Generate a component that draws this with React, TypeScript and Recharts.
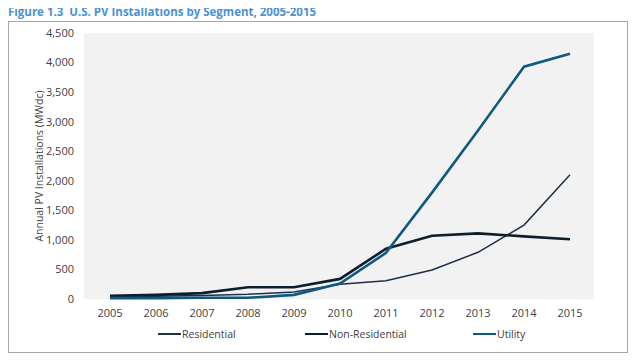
import { LineChart, Line, XAxis, YAxis, CartesianGrid, Legend } from "recharts";

const years = ["2005", "2006", "2007", "2008", "2009", "2010", "2011", "2012", "2013", "2014", "2015"];
const residential = [40, 45, 60, 80, 120, 250, 310, 490, 790, 1250, 2100];
const nonResidential = [55, 70, 100, 200, 200, 340, 850, 1070, 1110, 1060, 1010];
const utility = [15, 15, 20, 20, 70, 260, 780, 1800, 2850, 3930, 4150];
const yTicks = [0, 500, 1000, 1500, 2000, 2500, 3000, 3500, 4000, 4500];

const data = years.map((year, i) => ({
  year,
  residential: residential[i],
  nonResidential: nonResidential[i],
  utility: utility[i],
}));

const series = [
  { key: "residential", name: "Residential", color: "#1d2f4b", width: 1.5, left: 150 },
  { key: "nonResidential", name: "Non-Residential", color: "#0f1e2d", width: 2.6, left: 297 },
  { key: "utility", name: "Utility", color: "#0e5980", width: 2.6, left: 465 },
];

const font = "'Open Sans', 'Noto Sans', sans-serif";

function LegendBox() {
  return (
    <div style={{ position: "relative", height: 20, top: 3 }}>
      {series.map((s) => (
        <div
          key={s.key}
          style={{ position: "absolute", left: s.left, top: 0, display: "flex", alignItems: "center", fontSize: 10.5, color: "#404040", fontFamily: font }}
        >
          <span style={{ display: "inline-block", width: 23, height: s.width, background: s.color, marginRight: 1 }} />
          {s.name}
        </div>
      ))}
    </div>
  );
}

export default function App() {
  return (
    <div style={{ position: "relative", width: 640, height: 363, margin: -8, background: "#fff" }}>
      <div style={{ position: "absolute", left: 8, top: 4, lineHeight: "15px", fontFamily: font, fontWeight: 700, fontSize: 11.5, color: "#4a92d2" }}>
        Figure 1.3&nbsp; U.S. PV Installations by Segment, 2005-2015
      </div>
      <div style={{ position: "absolute", left: 8, top: 21, width: 620, height: 332, border: "1px solid #a6a6a6", boxSizing: "border-box" }} />
      <div style={{ position: "absolute", left: 8, top: 21 }}>
        <LineChart width={621} height={333} data={data} margin={{ top: 12, right: 35, left: 0, bottom: 0 }}>
          <CartesianGrid fill="#f2f2f2" horizontal={false} vertical={false} />
          <XAxis
            dataKey="year"
            axisLine={false}
            tickLine={false}
            padding={{ left: 26, right: 24 }}
            tick={{ fontSize: 11, fill: "#404040", fontFamily: font }}
            tickMargin={4}
            height={25}
            interval={0}
          />
          <YAxis
            domain={[0, 4500]}
            ticks={yTicks}
            axisLine={false}
            tickLine={false}
            width={76}
            tickMargin={4}
            tick={{ fontSize: 11, fill: "#404040", fontFamily: font }}
            tickFormatter={(v: number) => v.toLocaleString("en-US")}
            label={{ value: "Annual PV Installations (MWdc)", angle: -90, position: "insideLeft", offset: 31, style: { fontSize: 10.5, fill: "#404040", fontFamily: font, textAnchor: "middle" } }}
          />
          <Legend verticalAlign="bottom" height={30} content={() => <LegendBox />} />
          {series.map((s) => (
            <Line
              key={s.key}
              type="linear"
              dataKey={s.key}
              name={s.name}
              stroke={s.color}
              strokeWidth={s.width}
              dot={false}
              isAnimationActive={false}
            />
          ))}
        </LineChart>
      </div>
    </div>
  );
}
